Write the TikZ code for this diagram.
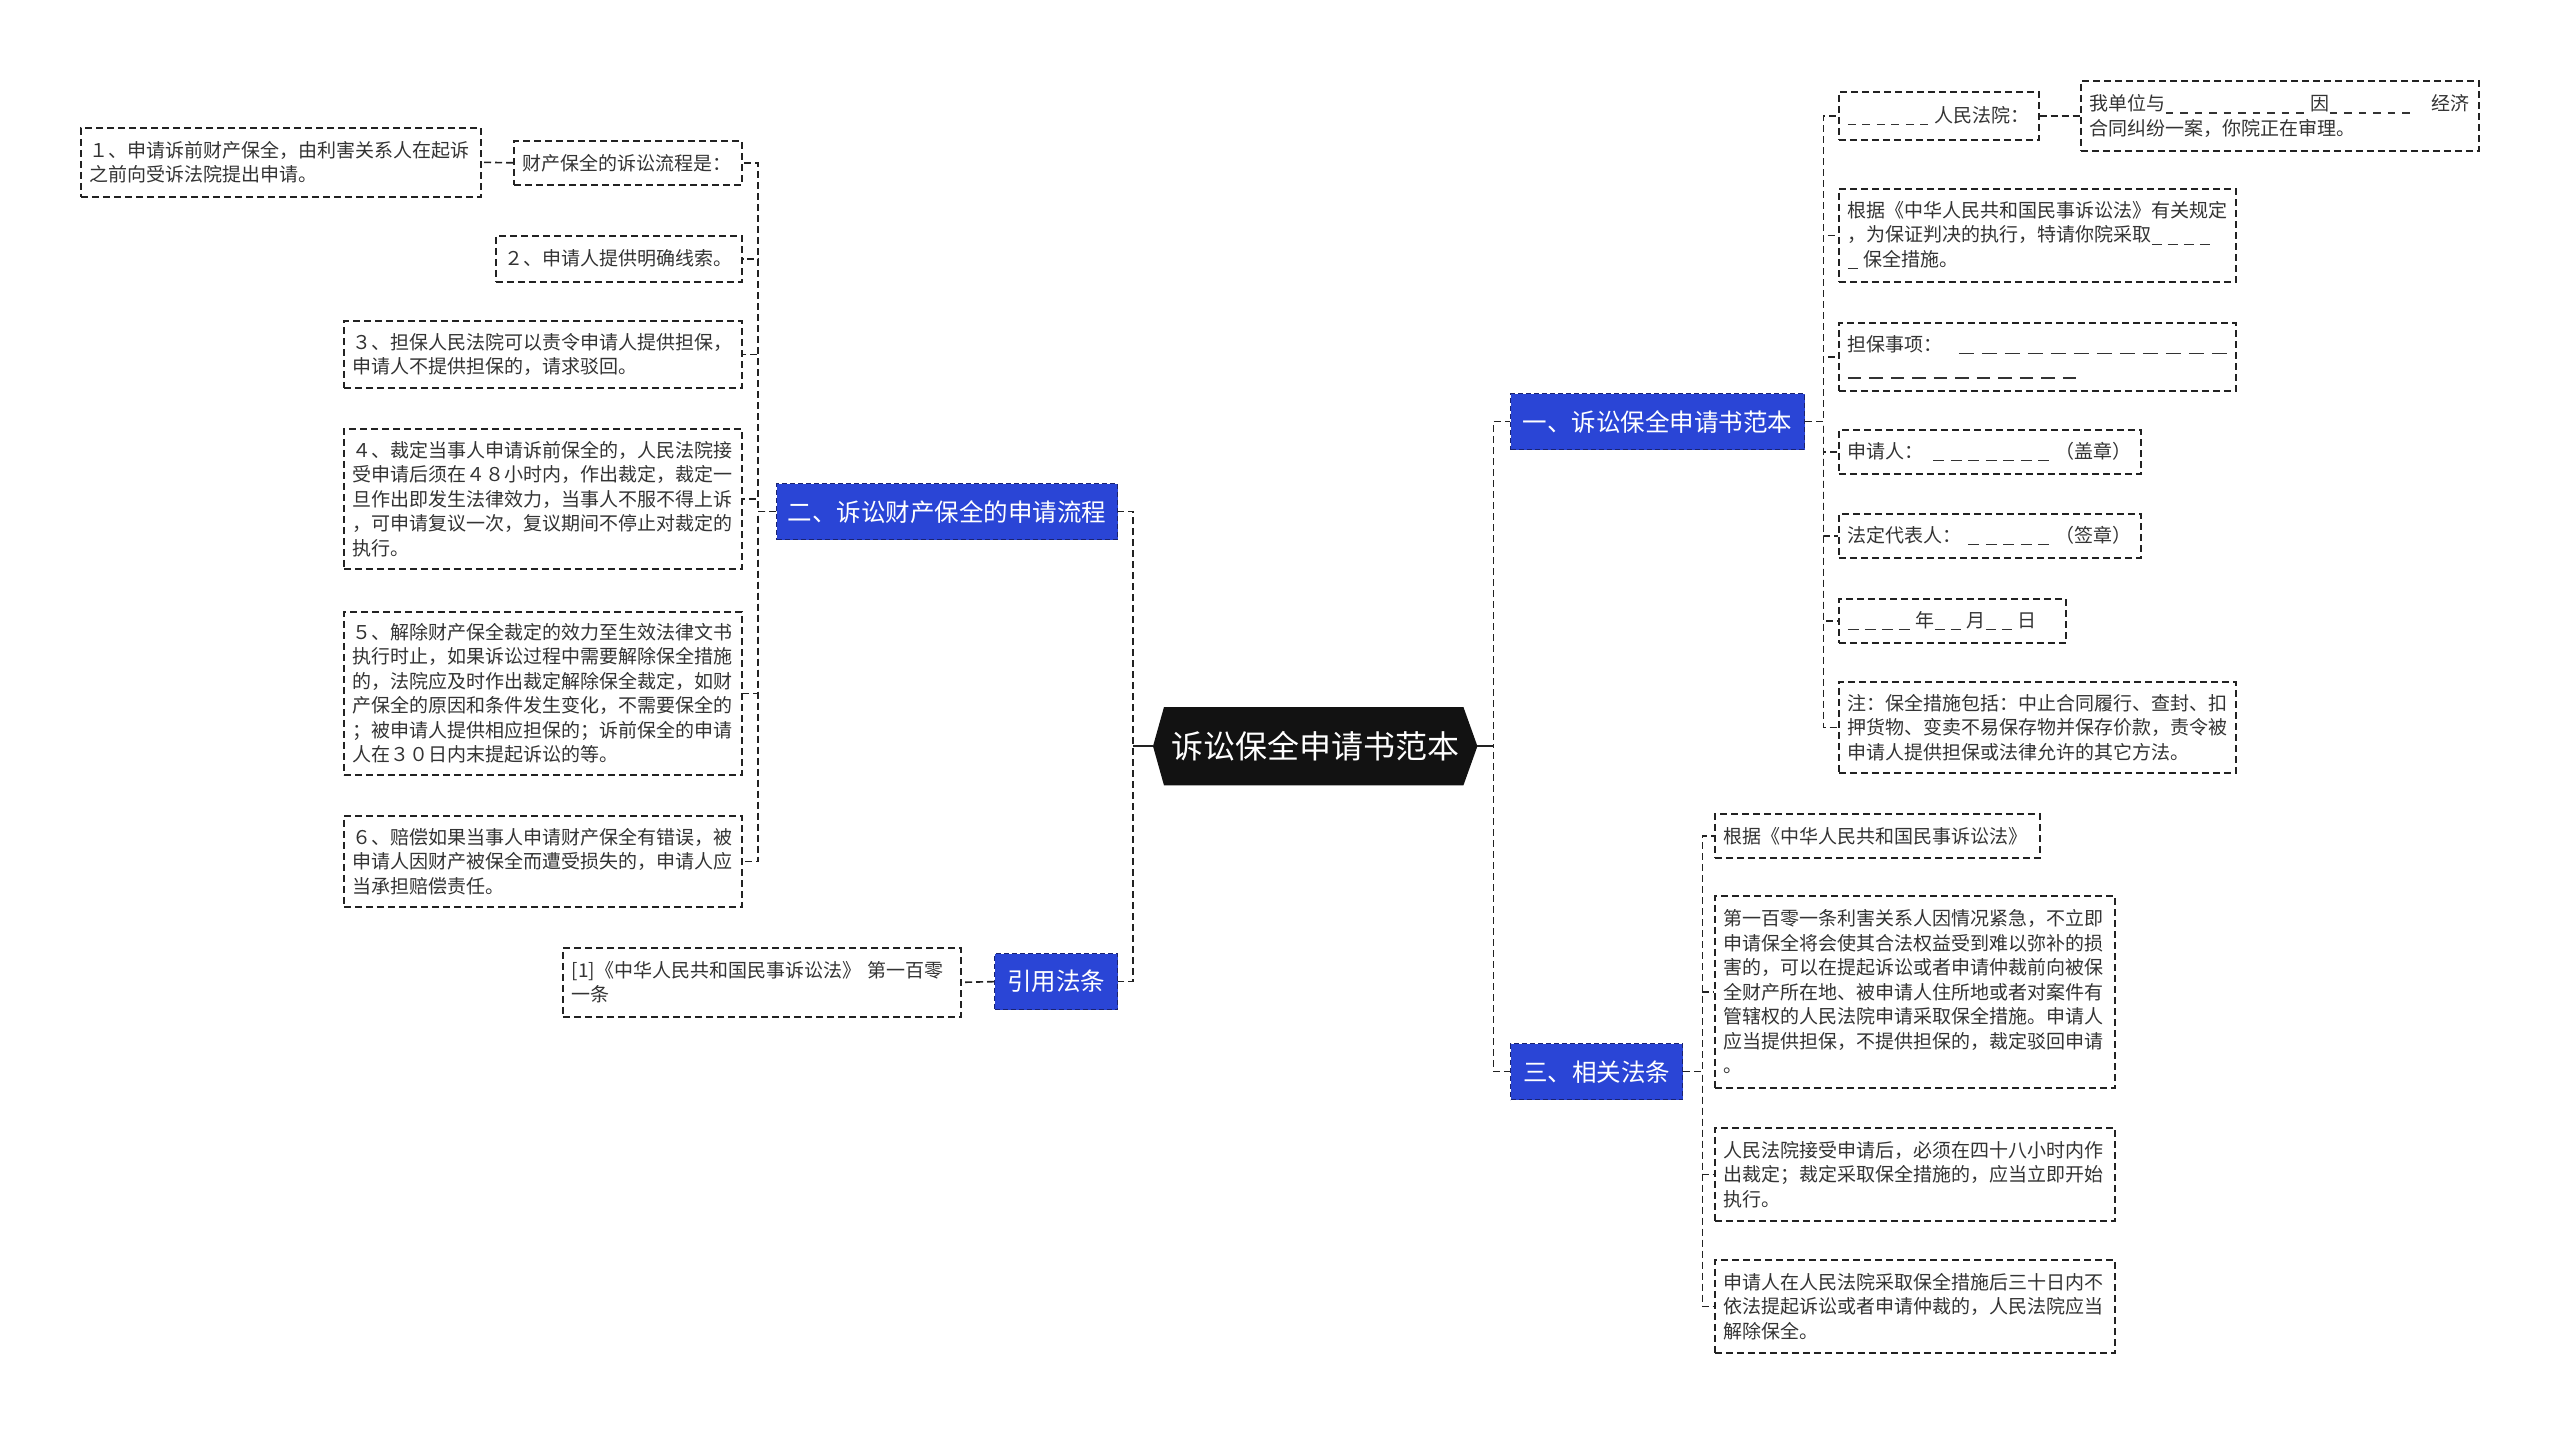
\documentclass[tikz,border=0pt]{standalone}
\usepackage{fontspec}
\setmainfont{Noto Sans CJK SC}
\usetikzlibrary{backgrounds}
\definecolor{txt}{HTML}{333333}
\definecolor{bluefill}{HTML}{2A45D6}
\definecolor{blueedge}{HTML}{1A2370}
\definecolor{edge}{HTML}{222222}
\newcommand\bxf{\fontsize{19}{24.5}\selectfont}
\newcommand\blf{\fontsize{24.5}{30}\selectfont}
\newcommand\cnf{\fontsize{32}{38}\selectfont}
\newcommand\dl[3][6]{\foreach\i in {1,...,#2}{\rule[-3pt]{#3pt}{1.3pt}\hspace{#1pt}}}
\tikzset{
  box/.style={draw=edge, line width=1.6pt, dash pattern=on 7pt off 4pt, rectangle,
    anchor=north west, inner xsep=9pt, inner ysep=0pt, align=left, font=\bxf, text=txt},
  bluebox/.style={draw=blueedge, line width=1.3pt, dash pattern=on 5pt off 3pt, fill=bluefill,
    anchor=north west, inner sep=0pt, align=center, font=\blf, text=white},
  cen/.style={anchor=north west, inner sep=0pt, font=\cnf, text=white},
  conn/.style={draw=edge, line width=1.6pt, dash pattern=on 7pt off 4pt},
  stub/.style={draw=edge, line width=1.8pt}
}
\begin{document}
\begin{tikzpicture}[x=1pt,y=-1pt]
\useasboundingbox (0,0) rectangle (2560,1433);
\begin{scope}[on background layer]
\fill[white] (0,0) rectangle (2560,1433);
\end{scope}

% central
\node[cen, minimum width=324, minimum height=78] (c) at (1153,707) {诉讼保全申请书范本};
\begin{scope}[on background layer]
\fill[black!93] (c.west) -- ([xshift=11pt]c.north west) -- ([xshift=-14pt]c.north east) -- (c.east)
  -- ([xshift=-14pt]c.south east) -- ([xshift=11pt]c.south west) -- cycle;
\end{scope}

% left main branches
\node[bluebox, minimum width=341, minimum height=56] (B2) at (776,483) {二、诉讼财产保全的申请流程};
\node[bluebox, minimum width=123, minimum height=56] (B1) at (994,953) {引用法条};

% right main branches
\node[bluebox, minimum width=294, minimum height=56] (R1) at (1510,393) {一、诉讼保全申请书范本};
\node[bluebox, minimum width=172, minimum height=56] (R3) at (1510,1043) {三、相关法条};

% children of B2
\node[box, minimum width=228, minimum height=44, text width=210] (L0) at (513,140) {财产保全的诉讼流程是：};
\node[box, minimum width=400, minimum height=69, text width=382] (L0a) at (80,127) {１、申请诉前财产保全，由利害关系人在起诉\\之前向受诉法院提出申请。};
\node[box, minimum width=246, minimum height=46, text width=228] (L2) at (495,235) {２、申请人提供明确线索。};
\node[box, minimum width=398, minimum height=67, text width=380] (L3) at (343,320) {３、担保人民法院可以责令申请人提供担保，\\申请人不提供担保的，请求驳回。};
\node[box, minimum width=398, minimum height=140, text width=380] (L4) at (343,428) {４、裁定当事人申请诉前保全的，人民法院接\\受申请后须在４８小时内，作出裁定，裁定一\\旦作出即发生法律效力，当事人不服不得上诉\\，可申请复议一次，复议期间不停止对裁定的\\执行。};
\node[box, minimum width=398, minimum height=163, text width=380] (L5) at (343,611) {５、解除财产保全裁定的效力至生效法律文书\\执行时止，如果诉讼过程中需要解除保全措施\\的，法院应及时作出裁定解除保全裁定，如财\\产保全的原因和条件发生变化，不需要保全的\\；被申请人提供相应担保的；诉前保全的申请\\人在３０日内末提起诉讼的等。};
\node[box, minimum width=398, minimum height=91, text width=380] (L6) at (343,815) {６、赔偿如果当事人申请财产保全有错误，被\\申请人因财产被保全而遭受损失的，申请人应\\当承担赔偿责任。};

% child of B1
\node[box, minimum width=398, minimum height=69, text width=380] (cite) at (562,947) {[1]《中华人民共和国民事诉讼法》 第一百零\\一条};

% children of R1
\node[box, minimum width=200, minimum height=48, text width=182] (A1) at (1838,91) {\dl[6.5]{6}{8}人民法院：};
\node[box, minimum width=398, minimum height=70, text width=380] (A1a) at (2080,80) {我单位与\dl[7]{10}{7.5}因\dl[7]{6}{7.5}\hfill 经济\\合同纠纷一案，你院正在审理。};
\node[box, minimum width=397, minimum height=93, text width=379] (A2) at (1838,188) {根据《中华人民共和国民事诉讼法》有关规定\\，为保证判决的执行，特请你院采取\dl{4}{10}\\\dl{1}{10}保全措施。};
\node[box, minimum width=397, minimum height=68, text width=379] (A3) at (1838,322) {担保事项：\hfill\dl[8]{12}{15}\\\dl[8]{11}{13.5}};
\node[box, minimum width=302, minimum height=44, text width=284] (A4) at (1838,429) {申请人：\hfill\dl[6.5]{7}{11}（盖章）};
\node[box, minimum width=302, minimum height=44, text width=284] (A5) at (1838,513) {法定代表人：\hfill\dl[6.5]{5}{11}（签章）};
\node[box, minimum width=227, minimum height=44, text width=209] (A6) at (1838,598) {\dl{4}{11}年\dl{2}{10}月\dl{2}{10}日};
\node[box, minimum width=397, minimum height=91, text width=379] (A7) at (1838,681) {注：保全措施包括：中止合同履行、查封、扣\\押货物、变卖不易保存物并保存价款，责令被\\申请人提供担保或法律允许的其它方法。};

% children of R3
\node[box, minimum width=325, minimum height=44, text width=307] (C1) at (1714,813) {根据《中华人民共和国民事诉讼法》};
\node[box, minimum width=400, minimum height=192, text width=382] (C2) at (1714,895) {第一百零一条利害关系人因情况紧急，不立即\\申请保全将会使其合法权益受到难以弥补的损\\害的，可以在提起诉讼或者申请仲裁前向被保\\全财产所在地、被申请人住所地或者对案件有\\管辖权的人民法院申请采取保全措施。申请人\\应当提供担保，不提供担保的，裁定驳回申请\\。};
\node[box, minimum width=400, minimum height=93, text width=382] (C3) at (1714,1127) {人民法院接受申请后，必须在四十八小时内作\\出裁定；裁定采取保全措施的，应当立即开始\\执行。};
\node[box, minimum width=400, minimum height=93, text width=382] (C4) at (1714,1259) {申请人在人民法院采取保全措施后三十日内不\\依法提起诉讼或者申请仲裁的，人民法院应当\\解除保全。};

% connectors: central
\draw[conn] (c.west) -- ++(-20,0) |- (B2.east);
\draw[conn] (c.west) -- ++(-20,0) |- (B1.east);
\draw[conn] (c.east) -- ++(16,0) |- (R1.west);
\draw[conn] (c.east) -- ++(16,0) |- (R3.west);
\draw[stub] (c.west) -- ++(-20,0);
\draw[stub] (c.east) -- ++(16,0);

% B2 children
\foreach \n in {L0,L2,L3,L4,L5,L6}
  \draw[conn] (B2.west) -- ++(-18,0) |- (\n.east);
\draw[conn] (L0.west) -- (L0a.east);
\draw[conn] (B1.west) -- (cite.east);

% R1 children
\foreach \n in {A1,A2,A3,A4,A5,A6,A7}
  \draw[conn] (R1.east) -- ++(18,0) |- (\n.west);
\draw[conn] (A1.east) -- (A1a.west);

% R3 children
\foreach \n in {C1,C2,C3,C4}
  \draw[conn] (R3.east) -- ++(19,0) |- (\n.west);
\end{tikzpicture}
\end{document}
